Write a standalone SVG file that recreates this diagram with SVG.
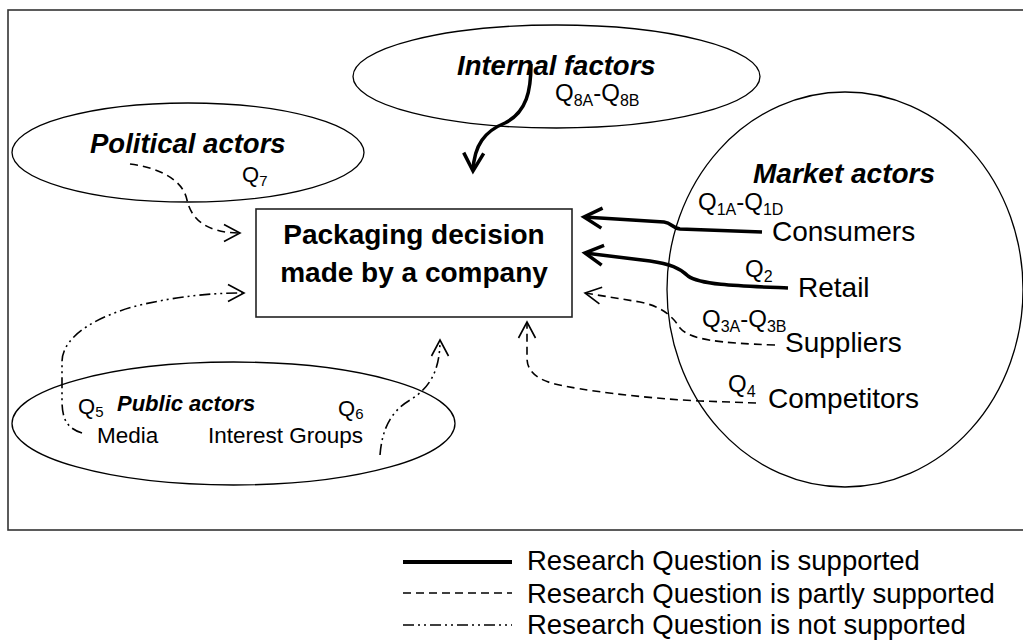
<svg xmlns="http://www.w3.org/2000/svg" width="1023" height="642" viewBox="0 0 1023 642">
<style>
text{font-family:"Liberation Sans",Arial,sans-serif;fill:#000}
.ttl{font-weight:bold;font-style:italic;font-size:27.5px}
.box{font-weight:bold;font-size:28px}
.lab{font-size:28px}
.q{font-size:24px}
.qs{font-size:16px}
.pq{font-size:22px}
.pqs{font-size:15px}
.plab{font-size:22.5px}
.leg{font-size:27.5px}
.ell{fill:none;stroke:#000;stroke-width:1.3}
.c{fill:none;stroke:#000}
.sup{stroke-width:3.5;marker-end:url(#ahT)}
.part{stroke-width:1.6;stroke-dasharray:8 5;marker-end:url(#ahO)}
.not{stroke-width:1.6;stroke-dasharray:11 4 2 4 2 4;marker-end:url(#ahO)}
</style>
<defs>
<marker id="ahT" markerUnits="userSpaceOnUse" viewBox="-22 -14 26 28" markerWidth="26" markerHeight="28" refX="0" refY="0" orient="auto" overflow="visible">
<path d="M-18,-10 L0,0 L-18,10" fill="none" stroke="#000" stroke-width="3.5" stroke-dasharray="none"/>
</marker>
<marker id="ahO" markerUnits="userSpaceOnUse" viewBox="-22 -14 26 28" markerWidth="26" markerHeight="28" refX="0" refY="0" orient="auto" overflow="visible">
<path d="M-16,-8.5 L0,0 L-16,8.5" fill="none" stroke="#000" stroke-width="1.6" stroke-dasharray="none"/>
</marker>
</defs>
<rect x="0" y="0" width="1023" height="642" fill="#fff"/>
<rect id="frame" x="8" y="10" width="1025" height="520" fill="none" stroke="#333" stroke-width="1.6"/>

<g id="internal-factors">
<ellipse class="ell" cx="556.5" cy="76.5" rx="203.5" ry="51.5"/>
<text class="ttl" x="457" y="75">Internal factors</text>
<text class="q" x="555" y="101">Q<tspan class="qs" dy="5">8A</tspan><tspan dy="-5">-Q</tspan><tspan class="qs" dy="5">8B</tspan></text>
</g>

<g id="political-actors">
<ellipse class="ell" cx="188" cy="152.5" rx="176" ry="49.5"/>
<text class="ttl" x="90" y="153">Political actors</text>
<text class="pq" x="242" y="182">Q<tspan class="pqs" dy="4">7</tspan></text>
</g>

<g id="market-actors">
<ellipse class="ell" cx="845" cy="289.5" rx="178" ry="197.5"/>
<text class="ttl" x="753" y="183" style="font-size:28px">Market actors</text>
<text class="q" x="698" y="210">Q<tspan class="qs" dy="5">1A</tspan><tspan dy="-5">-Q</tspan><tspan class="qs" dy="5">1D</tspan></text>
<text class="lab" x="772" y="241">Consumers</text>
<text class="q" x="745" y="277">Q<tspan class="qs" dy="5">2</tspan></text>
<text class="lab" x="798" y="297">Retail</text>
<text class="q" x="702" y="327">Q<tspan class="qs" dy="5">3A</tspan><tspan dy="-5">-Q</tspan><tspan class="qs" dy="5">3B</tspan></text>
<text class="lab" x="785" y="352">Suppliers</text>
<text class="q" x="728" y="392">Q<tspan class="qs" dy="5">4</tspan></text>
<text class="lab" x="768" y="408">Competitors</text>
</g>

<g id="public-actors">
<ellipse class="ell" cx="233.5" cy="423.5" rx="221.5" ry="61.5"/>
<text class="pq" x="78" y="414">Q<tspan class="pqs" dy="3">5</tspan></text>
<text class="ttl" x="117" y="411" style="font-size:22px">Public actors</text>
<text class="pq" x="338" y="416">Q<tspan class="pqs" dy="3">6</tspan></text>
<text class="plab" x="97" y="443">Media</text>
<text class="plab" x="208" y="443">Interest Groups</text>
</g>

<g id="packaging-decision">
<rect x="256" y="209" width="316" height="108" fill="#fff" stroke="#222" stroke-width="1.6"/>
<text class="box" x="414" y="244" text-anchor="middle">Packaging decision</text>
<text class="box" x="414" y="282" text-anchor="middle">made by a company</text>
</g>

<g id="connectors">
<path class="c sup" d="M531,64 C531,90 527,112 505,123 C485,131 474,145 473,171"/>
<path class="c sup" d="M762,232 L680,229 C672,228 672,223 664,222 L584,217"/>
<path class="c sup" d="M788,288 C740,286 700,285 688,276 C680,268 670,264 650,261 L585,253"/>
<path class="c part" d="M775,345 C720,343 690,340 680,328 C672,315 660,306 640,302 L585,293"/>
<path class="c part" d="M756,403 L700,401 C640,398 580,390 555,384 C535,379 527,370 527,358 L527,322"/>
<path class="c part" d="M130,164 C160,168 183,180 187,200 C191,218 205,233 240,233"/>
<path class="c not" d="M82,433 C66,428 62,418 62,400 L62,362 C62,335 100,315 140,305 C180,296 210,293 244,293"/>
<path class="c not" d="M380,455 C382,430 390,412 410,400 C430,388 440,370 440,340"/>
</g>

<g id="legend">
<line x1="403" y1="562" x2="512" y2="562" stroke="#000" stroke-width="4"/>
<line x1="403" y1="593" x2="512" y2="593" stroke="#000" stroke-width="1.6" stroke-dasharray="8 5"/>
<line x1="403" y1="625" x2="512" y2="625" stroke="#000" stroke-width="1.6" stroke-dasharray="11 4 2 4 2 4"/>
<text class="leg" x="527" y="570">Research Question is supported</text>
<text class="leg" x="527" y="603">Research Question is partly supported</text>
<text class="leg" x="527" y="634">Research Question is not supported</text>
</g>
</svg>
